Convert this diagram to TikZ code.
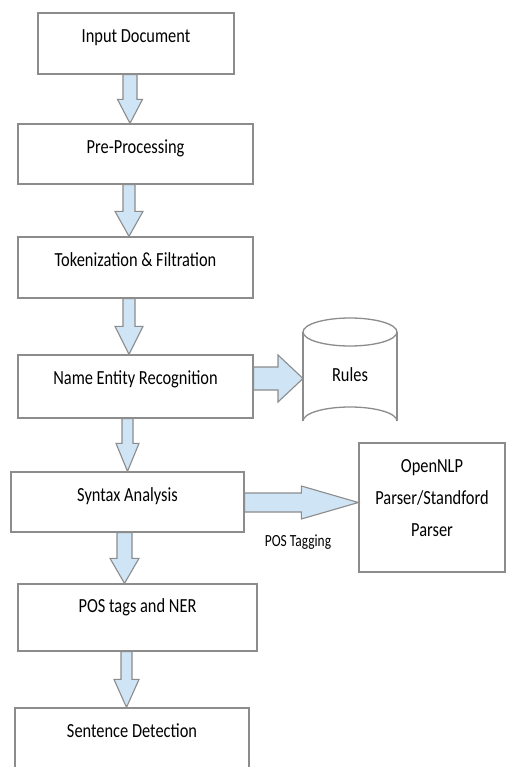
\documentclass[tikz,border=0pt]{standalone}
\usepackage{fontspec}
\usepackage{graphicx}
\setmainfont{Carlito}
\usetikzlibrary{calc}
\definecolor{lineg}{HTML}{8C8C8C}
\definecolor{fatfill}{HTML}{CFE4F4}
\newcommand\sq[1]{\scalebox{0.82}[1]{#1}}
\newcommand\sqs[1]{\scalebox{0.79}[1]{#1}}
% down fat arrow: from, to, x centre, shaft half, head half, head length
\newcommand\dfat[6]{%
  \draw[fat] let \p1=(#1.south), \p2=(#2.north) in
    (#3pt-#4pt,\y1) -- (#3pt+#4pt,\y1) -- (#3pt+#4pt,\y2+#6pt) -- (#3pt+#5pt,\y2+#6pt)
    -- (#3pt,\y2) -- (#3pt-#5pt,\y2+#6pt) -- (#3pt-#4pt,\y2+#6pt) -- cycle;}
% right fat arrow: from, to, y centre (px), shaft half, head half, head length
\newcommand\rfat[6]{%
  \draw[fat] let \p1=(#1), \p2=(#2) in
    (\x1,-#3pt+#4pt) -- (\x2-#6pt,-#3pt+#4pt) -- (\x2-#6pt,-#3pt+#5pt) -- (\x2,-#3pt)
    -- (\x2-#6pt,-#3pt-#5pt) -- (\x2-#6pt,-#3pt-#4pt) -- (\x1,-#3pt-#4pt) -- cycle;}
\begin{document}
\begin{tikzpicture}[x=1pt,y=-1pt,
  box/.style={draw=lineg,line width=1.3pt,fill=white,rectangle,inner sep=0pt},
  lab/.style={font=\fontsize{20}{32}\selectfont,text=black,inner sep=0pt},
  cyl/.style={draw=lineg,line width=1.3pt},
  fat/.style={draw=lineg,line width=1.1pt,fill=fatfill,line join=miter}]
\useasboundingbox (0,0) rectangle (506,767);
\clip (0,0) rectangle (506,767);
\fill[white] (0,0) rectangle (506,767);

\node[box,minimum width=196,minimum height=61,
  label={[lab,anchor=base,yshift=-30pt]north:\sq{Input Document}}] (in) at (136,43.5) {};
\node[box,minimum width=235,minimum height=60,
  label={[lab,anchor=base,yshift=-30pt]north:\sq{Pre-Processing}}] (pre) at (135.5,154) {};
\node[box,minimum width=235,minimum height=61,
  label={[lab,anchor=base,yshift=-30pt]north:\sq{Tokenization \& Filtration}}] (tok) at (135.5,267.5) {};
\node[box,minimum width=235,minimum height=63,
  label={[lab,anchor=base,yshift=-30pt]north:\sq{Name Entity Recognition}}] (ner) at (135.5,386.5) {};
\node[box,minimum width=233,minimum height=60,
  label={[lab,anchor=base,yshift=-30pt]north:\sq{Syntax Analysis}}] (syn) at (127.5,502) {};
\node[box,minimum width=239,minimum height=67,
  label={[lab,anchor=base,yshift=-29pt]north:\sq{POS tags and NER}}] (pos) at (137.5,617.5) {};
\node[box,minimum width=234,minimum height=92,
  label={[lab,anchor=base,yshift=-30pt]north:\sq{Sentence Detection}}] (sen) at (132,754) {};
\node[box,minimum width=146,minimum height=129] (nlp) at (432,507.5) {};
\node[lab,anchor=north,align=center] (nlptext) at (432,459)
  {\sq{OpenNLP}\\\sq{Parser/Standford}\\\sq{Parser}};

% cylinder "Rules"
\fill[white] (303,332) -- (303,421) arc (180:360:47 and 14) -- (397,332) -- cycle;
\draw[cyl] (303,332) -- (303,421);
\draw[cyl] (397,332) -- (397,421);
\draw[cyl] (303,421) arc (180:360:47 and 14);
\draw[cyl,fill=white] (350,332) ellipse (47 and 14);
\coordinate (rules) at (303,378.5);
\node[lab,anchor=base] (rulestext) at (350,381.5) {\sq{Rules}};

% vertical fat arrows
\dfat{in}{pre}{130}{7}{12.5}{24}
\dfat{pre}{tok}{129}{6}{14}{25}
\dfat{tok}{ner}{129}{6}{14}{28}
\dfat{ner}{syn}{127.5}{5.5}{11.5}{28}
\dfat{syn}{pos}{124.5}{7.5}{14.5}{25}
\dfat{pos}{sen}{126.5}{5.5}{12.5}{28}

% horizontal fat arrows
\rfat{ner.east}{rules}{378.5}{11.5}{23.5}{25}
\rfat{syn.east}{nlp.west}{502.5}{9.5}{16.5}{57}

\node[font=\fontsize{17}{20}\selectfont,anchor=base,inner sep=0pt] (postag) at (298,546) {\sqs{POS Tagging}};
\end{tikzpicture}
\end{document}
